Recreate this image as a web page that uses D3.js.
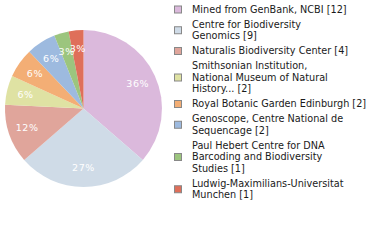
<!DOCTYPE html>
<html><head><meta charset="utf-8">
<script src="https://cdn.jsdelivr.net/npm/d3@7"></script>
<style>html,body{margin:0;padding:0;background:#fff;}svg{display:block;}</style>
</head><body>
<svg id="chart" width="380" height="240"></svg>
<script>
const labels = [
  ["Mined from GenBank, NCBI [12]"],
  ["Centre for Biodiversity", "Genomics [9]"],
  ["Naturalis Biodiversity Center [4]"],
  ["Smithsonian Institution,", "National Museum of Natural", "History... [2]"],
  ["Royal Botanic Garden Edinburgh [2]"],
  ["Genoscope, Centre National de", "Sequencage [2]"],
  ["Paul Hebert Centre for DNA", "Barcoding and Biodiversity", "Studies [1]"],
  ["Ludwig-Maximilians-Universitat", "Munchen [1]"]
];
const values = [12, 9, 4, 2, 2, 2, 1, 1];
const colors = ["#dbb9dc", "#cfdbe7", "#e0a59b", "#dfe2a3", "#f3ae75", "#9dbadf", "#9cc57e", "#df6f5a"];

const svg = d3.select("#chart");
const cx = 83.5, cy = 108.5, r = 78.5;
const total = d3.sum(values);
const pie = d3.pie().sort(null).value(d => d)(values);
const arc = d3.arc().innerRadius(0).outerRadius(r);
const labelArc = d3.arc().innerRadius(r * 0.76).outerRadius(r * 0.76);
const g = svg.append("g").attr("transform", `translate(${cx},${cy})`);
g.selectAll("path").data(pie).join("path")
  .attr("d", arc).attr("fill", (d, i) => colors[i]);
g.selectAll("text").data(pie).join("text")
  .attr("transform", d => `translate(${labelArc.centroid(d)})`)
  .attr("text-anchor", "middle").attr("dy", "0.35em")
  .attr("fill", "#fff").attr("font-family", "DejaVu Sans").attr("font-size", 9.5)
  .attr("letter-spacing", 0.6)
  .text(d => Math.round(d.data / total * 100) + "%");

const lg = svg.append("g");
const lineH = 11.5, gap = 3.5;
let y = 9.5;
labels.forEach((lines, i) => {
  const h = (lines.length - 1) * lineH;
  lg.append("rect").attr("x", 174.5).attr("y", y + h / 2 - 3.5).attr("width", 7).attr("height", 7)
    .attr("fill", colors[i]).attr("stroke", "#888").attr("stroke-width", 1);
  lines.forEach((t, j) => {
    lg.append("text").attr("x", 192).attr("y", y + j * lineH).attr("dy", "0.35em")
      .attr("font-family", "DejaVu Sans").attr("font-size", 9.7).attr("fill", "#1a1a1a").text(t);
  });
  y += h + lineH + gap;
});
</script>
</body></html>
